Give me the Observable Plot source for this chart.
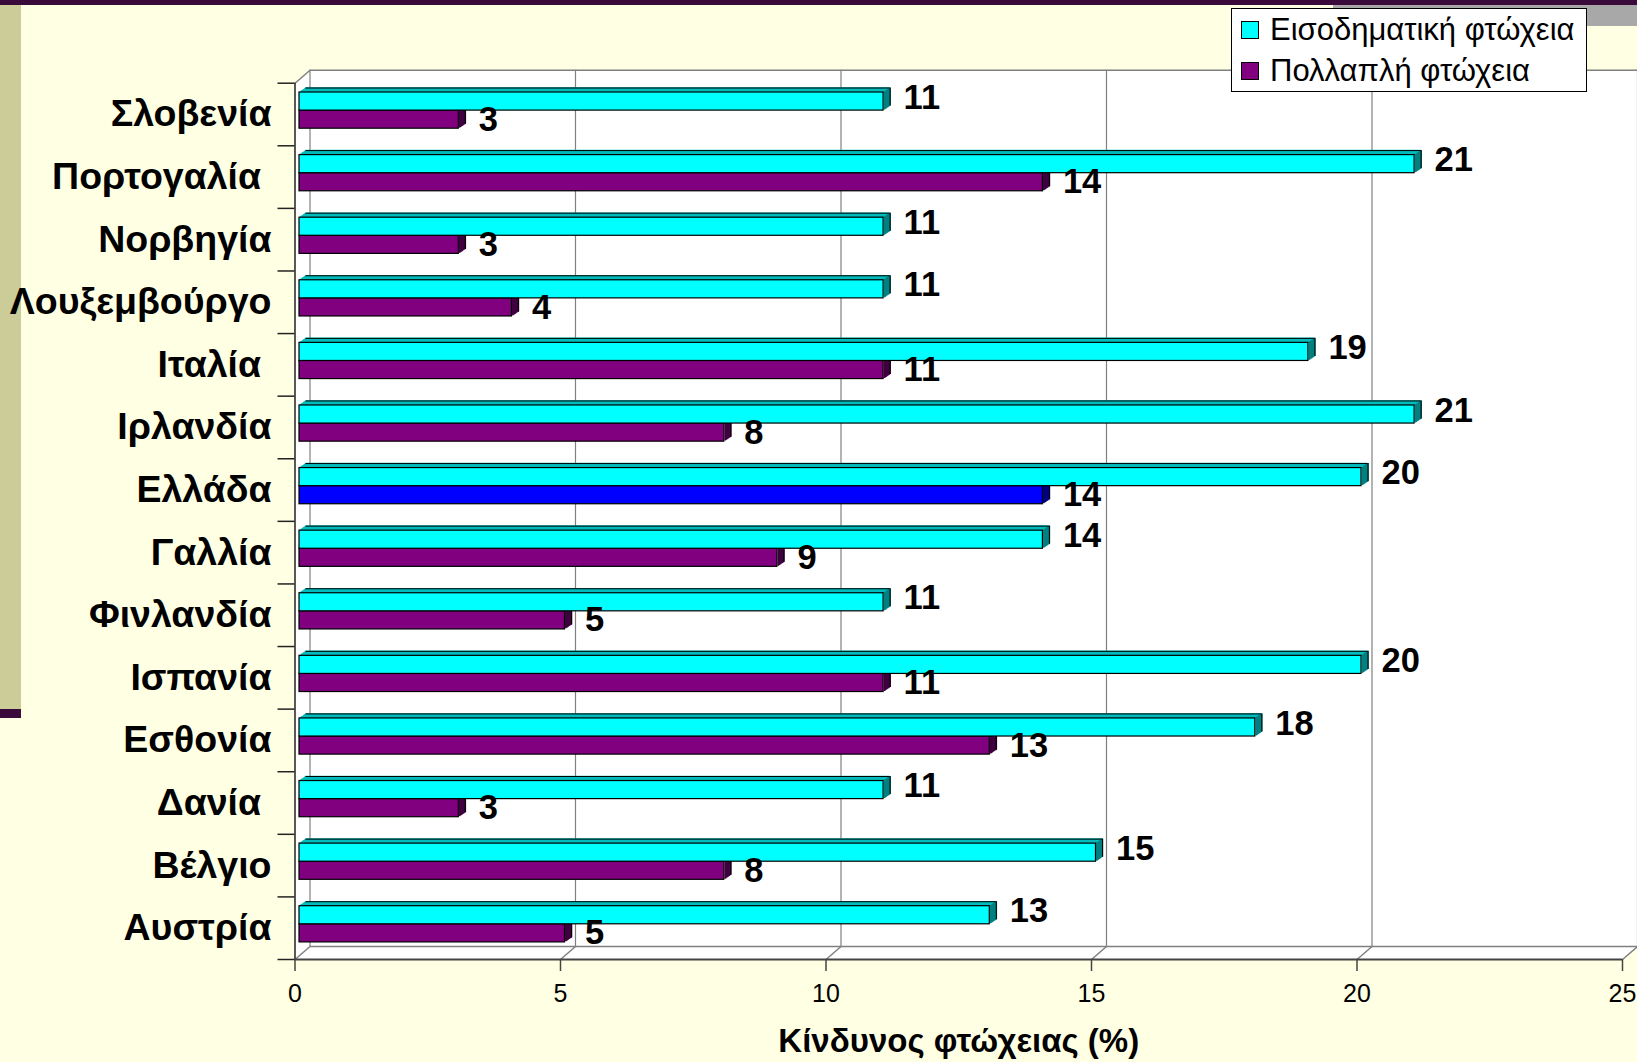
<!DOCTYPE html>
<html><head><meta charset="utf-8">
<script src="https://cdn.jsdelivr.net/npm/d3@7"></script>
<script src="https://cdn.jsdelivr.net/npm/@observablehq/plot@0.6"></script>
<style>
html,body{margin:0;padding:0;background:#FFFFE3;width:1637px;height:1062px;overflow:hidden;font-family:"Liberation Sans",Arial,sans-serif;}
#page{position:relative;width:1637px;height:1062px;}
.deco{position:absolute;}
#chart{position:absolute;left:0;top:0;}
#legend{position:absolute;left:1231px;top:8px;width:354px;height:82px;background:#fff;border:1px solid #000;}
.item{position:absolute;left:9px;height:30px;display:flex;align-items:center;font-size:31px;color:#000;white-space:nowrap;}
.sw{width:18px;height:18px;border:1px solid #000;margin-right:11px;box-sizing:border-box;}
</style></head><body>
<div id="page">
<div class="deco" style="left:0;top:0;width:1637px;height:5px;background:#3a0a3a"></div>
<div class="deco" style="left:1333px;top:5px;width:304px;height:21px;background:#a8a8a8"></div>
<div class="deco" style="left:0;top:5px;width:21px;height:704px;background:#cccc99"></div>
<div class="deco" style="left:0;top:709px;width:21px;height:9px;background:#3a0a3a"></div>
<div id="chart"></div>
<div id="legend"></div>
</div>
<script>
// ---- data ----
const categories = ["Σλοβενία","Πορτογαλία\u00A0","Νορβηγία","Λουξεμβούργο","Ιταλία\u00A0","Ιρλανδία","Ελλάδα","Γαλλία","Φινλανδία","Ισπανία","Εσθονία","Δανία\u00A0","Βέλγιο","Αυστρία"];
const incomePoverty   = [11,21,11,11,19,21,20,14,11,20,18,11,15,13];
const multiplePoverty = [3,14,3,4,11,8,14,9,5,11,13,3,8,5];
const seriesNames = ["Εισοδηματική φτώχεια","Πολλαπλή φτώχεια"];
const seriesColors = ["#00ffff","#800080"];
const highlighted = "Ελλάδα";
const xTicks = [0,5,10,15,20,25];
const xTitle = "Κίνδυνος φτώχειας (%)";

// ---- layout / style ----
const W = 1637, H = 1062;
const mL = 294.5, mR = 15, mT = 82.7, mB = 103;
const n = categories.length;
const xMax = xTicks[xTicks.length - 1];
const kx = (W - mR - mL) / xMax, ky = (H - mB - mT) / n;
const DX = 15, DY = 13;           // wall depth (px)
const BAR_DX = 4.5;               // bars sit slightly behind front plane
const BDX = 6.5, BDY = 4.5, NB = 8; // bar depth (px)

const rows = categories.map((c, i) => ({c, i, inc: incomePoverty[i], mul: multiplePoverty[i]}));

const series = [
  {key: "mul", insetTop: 27.4, insetBottom: 17.1,
   fill: d => d.c === highlighted ? "#0000ff" : seriesColors[1],
   top:  d => d.c === highlighted ? "#0000b0" : "#5a005a",
   end:  d => d.c === highlighted ? "#000080" : "#400040",
   labelDy: 36.5},
  {key: "inc", insetTop: 9.3, insetBottom: 35.2,
   fill: seriesColors[0], top: "#00bcbc", end: "#008080", labelDy: 14.4}
];

const marks = [];
// white walls (front, left wall, floor, back)
for (let k = 0; k <= DX; k++) marks.push(Plot.frame({fill: "white", dx: k, dy: -k * DY / DX}));
// back wall grid + outline
marks.push(Plot.ruleX(xTicks, {dx: DX, dy: -DY, stroke: "#808080", strokeWidth: 1.2}));
marks.push(Plot.ruleY([0, n], {dx: DX, dy: -DY, stroke: "#808080", strokeWidth: 1.5}));
// floor slanted lines
marks.push(Plot.link(xTicks, {x1: d => d, y1: n, x2: d => d + DX / kx, y2: n - DY / ky, stroke: "#808080", strokeWidth: 1.5}));
// left wall top edge
marks.push(Plot.link([0], {x1: 0, y1: 0, x2: DX / kx, y2: -DY / ky, stroke: "#808080", strokeWidth: 1.5}));
// front axes
marks.push(Plot.ruleX([0], {stroke: "#222", strokeWidth: 1.5}));
marks.push(Plot.ruleY([n], {stroke: "#444", strokeWidth: 2}));
// y ticks (category boundaries)
marks.push(Plot.ruleY(d3.range(n + 1), {x1: 0, x2: 0, insetLeft: -17, stroke: "#222", strokeWidth: 1.5}));
// x ticks + labels
marks.push(Plot.ruleX(xTicks, {y1: n, y2: n, insetBottom: -12, stroke: "#444", strokeWidth: 1.5}));
marks.push(Plot.text(xTicks, {x: d => d, y: n, dy: 34, text: d => String(d), fontSize: 25, fill: "#000"}));

// bars
for (const s of series) {
  const val = d => d[s.key];
  for (let j = 1; j <= NB; j++) {
    const ox = BAR_DX + j * BDX / NB, oy = -j * BDY / NB;
    marks.push(Plot.ruleY(rows, {y: "i", x1: 0, x2: val, dx: ox, dy: s.insetTop + oy, stroke: s.top, strokeWidth: 1.6}));
  }
  for (let j = 1; j <= NB; j++) {
    const ox = BAR_DX + j * BDX / NB, oy = -j * BDY / NB;
    marks.push(Plot.ruleX(rows, {x: val, y1: "i", y2: d => d.i + 1, insetTop: s.insetTop, insetBottom: s.insetBottom, dx: ox, dy: oy, stroke: s.end, strokeWidth: 1.6}));
  }
  // back edges
  marks.push(Plot.ruleY(rows, {y: "i", x1: 0, x2: val, dx: BAR_DX + BDX, dy: s.insetTop - BDY, stroke: "#000", strokeWidth: 1}));
  marks.push(Plot.ruleX(rows, {x: val, y1: "i", y2: d => d.i + 1, insetTop: s.insetTop, insetBottom: s.insetBottom, dx: BAR_DX + BDX, dy: -BDY, stroke: "#000", strokeWidth: 1}));
  // front face
  marks.push(Plot.rect(rows, {x1: 0, x2: val, y1: "i", y2: d => d.i + 1, insetTop: s.insetTop, insetBottom: s.insetBottom, dx: BAR_DX, fill: s.fill, stroke: "#000", strokeWidth: 1.2}));
}
// value labels
for (const s of series) {
  const val = d => d[s.key];
  marks.push(Plot.text(rows, {x: val, y: "i", dy: s.labelDy, dx: BAR_DX + 20, text: d => String(val(d)), textAnchor: "start", lineAnchor: "middle", fontSize: 34.5, fontWeight: "bold", fill: "#000"}));
}
// category labels
marks.push(Plot.text(rows, {x: 0, y: d => d.i + 0.5, text: "c", textAnchor: "end", lineAnchor: "middle", dx: -23.5, fontSize: 37.5, fontWeight: "bold", fill: "#000"}));
// axis title
marks.push(Plot.text([xTitle], {frameAnchor: "bottom", dy: 92, text: d => d, fontSize: 33, fontWeight: "bold", fill: "#000"}));

const chart = Plot.plot({
  width: W, height: H,
  marginLeft: mL, marginRight: mR, marginTop: mT, marginBottom: mB,
  x: {domain: [xTicks[0], xMax], axis: null},
  y: {domain: [0, n], reverse: true, axis: null},
  style: {background: "transparent", fontFamily: "'Liberation Sans', Arial, sans-serif", overflow: "visible", maxWidth: "none"},
  marks
});
document.getElementById("chart").appendChild(chart);

// legend
const legend = document.getElementById("legend");
seriesNames.forEach((name, i) => {
  const it = document.createElement("div");
  it.className = "item";
  it.style.top = (i === 0 ? 6 : 47) + "px";
  const sw = document.createElement("span");
  sw.className = "sw";
  sw.style.background = seriesColors[i];
  const tx = document.createElement("span");
  tx.textContent = name;
  it.appendChild(sw); it.appendChild(tx);
  legend.appendChild(it);
});
</script>
</body></html>
